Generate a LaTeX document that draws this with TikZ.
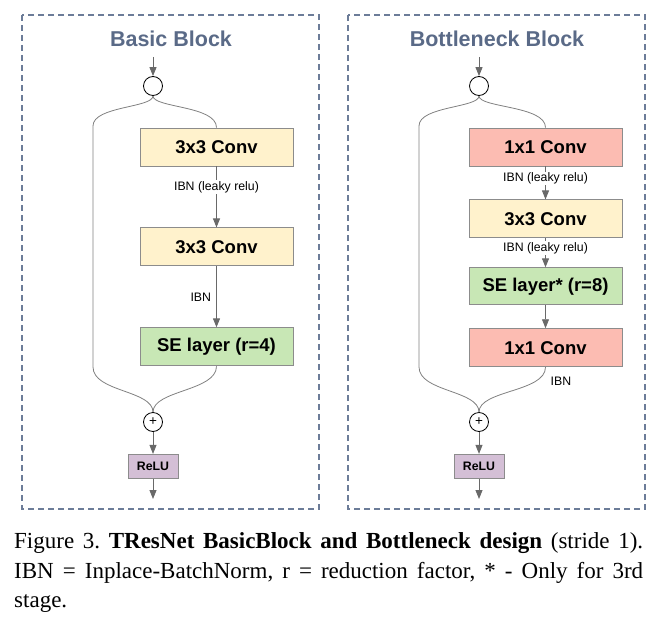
\documentclass[tikz,border=0pt]{standalone}
\usepackage{fontspec}
\setmainfont{Liberation Serif}
\setsansfont{Liberation Sans}
\usetikzlibrary{positioning,arrows.meta}
\definecolor{framecol}{RGB}{108,124,152}
\definecolor{titlecol}{RGB}{90,106,135}
\definecolor{convthree}{RGB}{255,242,204}
\definecolor{convone}{RGB}{252,188,178}
\definecolor{secol}{RGB}{200,231,181}
\definecolor{relucol}{RGB}{212,191,214}
\definecolor{edgecol}{RGB}{105,105,105}
\definecolor{boxline}{RGB}{140,140,140}
\frenchspacing
\begin{document}
\begin{tikzpicture}[x=1pt, y=-1pt, node distance=20pt,
  frame/.style={draw=framecol, line width=1.3pt, dash pattern=on 6pt off 4pt},
  title/.style={text=titlecol, anchor=base, font=\sffamily\bfseries\fontsize{21.5}{25}\selectfont},
  layer/.style={draw=boxline, line width=0.9pt, minimum width=153pt, minimum height=38pt, inner sep=0pt, font=\sffamily\bfseries\fontsize{18.5}{22}\selectfont},
  sum/.style={draw, circle, minimum size=19pt, inner sep=0pt, line width=0.8pt, font=\sffamily\fontsize{13.5}{15}\selectfont},
  relu/.style={draw=boxline, fill=relucol, line width=0.9pt, minimum width=50pt, minimum height=24pt, inner sep=0pt, font=\sffamily\bfseries\fontsize{12.3}{15}\selectfont},
  lbl/.style={font=\sffamily\fontsize{12.3}{15}\selectfont},
  arr/.style={draw=edgecol, line width=0.9pt, -{Triangle[length=9pt,width=7pt]}},
  link/.style={draw=edgecol!85, line width=0.8pt},
  capline/.style={anchor=base west, inner sep=0pt, font=\fontsize{23}{29}\selectfont}]
\useasboundingbox (0,0) rectangle (666,618);
\draw[frame] (22,15) rectangle (319,509);
\draw[frame] (348,15) rectangle (645,509);
\node (h1)[title] at (171,47) {Basic Block};
\node (h2)[title] at (497,47) {Bottleneck Block};
\coordinate (in1) at (153,57);
\node (s1)[sum] at (153,86) {};
\node (b1)[layer, fill=convthree] at (216.5,147) {3x3 Conv};
\node (b2)[layer, fill=convthree] [below=61pt of b1] {3x3 Conv};
\node (b3)[layer, fill=secol] [below=61pt of b2] {SE layer (r=4)};
\node (a1)[sum] at (153,422) {+};
\node (u1)[relu] [below=22pt of a1] {ReLU};
\coordinate (out1) at (153,499);
\coordinate (p1) at (93,126);
\coordinate (p2) at (93,367);
\draw[arr] (in1) -- (s1);
\draw[link] (s1.south) .. controls +(0,12) and +(0,-22) .. (b1.north);
\draw[link] (s1.south) .. controls +(0,12) and +(0,-20) .. (p1) -- (p2) .. controls +(0,25) and +(0,-22) .. (a1.north);
\draw[link] (b3.south) .. controls +(0,25) and +(0,-22) .. (a1.north);
\draw[arr] (b1) -- node (t1)[lbl, fill=white, inner sep=1pt, pos=0.34] {IBN (leaky relu)} (b2);
\draw[arr] (b2) -- node (t2)[lbl, left, inner sep=5pt] {IBN} (b3);
\draw[arr] (a1) -- (u1);
\draw[arr] (u1) -- (out1);
\coordinate (in2) at (479,57);
\node (s2)[sum] at (479,86) {};
\node (c1)[layer, fill=convone] at (545.5,147) {1x1 Conv};
\node (c2)[layer, fill=convthree] [below=33pt of c1] {3x3 Conv};
\node (c3)[layer, fill=secol, minimum height=37pt] [below=29pt of c2] {SE layer* (r=8)};
\node (c4)[layer, fill=convone] [below=23pt of c3] {1x1 Conv};
\node (a2)[sum] at (479,422) {+};
\node (u2)[relu] [below=22pt of a2] {ReLU};
\coordinate (out2) at (479,499);
\coordinate (q1) at (419,126);
\coordinate (q2) at (419,367);
\draw[arr] (in2) -- (s2);
\draw[link] (s2.south) .. controls +(0,12) and +(0,-22) .. (c1.north);
\draw[link] (s2.south) .. controls +(0,12) and +(0,-20) .. (q1) -- (q2) .. controls +(0,25) and +(0,-22) .. (a2.north);
\draw[link] (c4.south) .. controls +(0,25) and +(0,-22) .. (a2.north);
\draw[arr] (c1) -- node (t3)[lbl, fill=white, inner sep=1pt, pos=0.36] {IBN (leaky relu)} (c2);
\draw[arr] (c2) -- node (t4)[lbl, fill=white, inner sep=1pt, pos=0.34] {IBN (leaky relu)} (c3);
\draw[arr] (c3) -- (c4);
\node (t5)[lbl, anchor=west, inner sep=0pt] at ([shift={(5,14)}]c4.south) {IBN};
\draw[arr] (a2) -- (u2);
\draw[arr] (u2) -- (out2);
\node (k1)[capline] at (14,548) {\makebox[629pt][s]{Figure 3. \textbf{TResNet BasicBlock and Bottleneck design} (stride 1).}};
\node (k2)[capline] at (14,578) {\makebox[629pt][s]{IBN = Inplace-BatchNorm, r = reduction factor, * - Only for 3rd}};
\node (k3)[capline] at (14,607) {stage.};
\end{tikzpicture}
\end{document}
